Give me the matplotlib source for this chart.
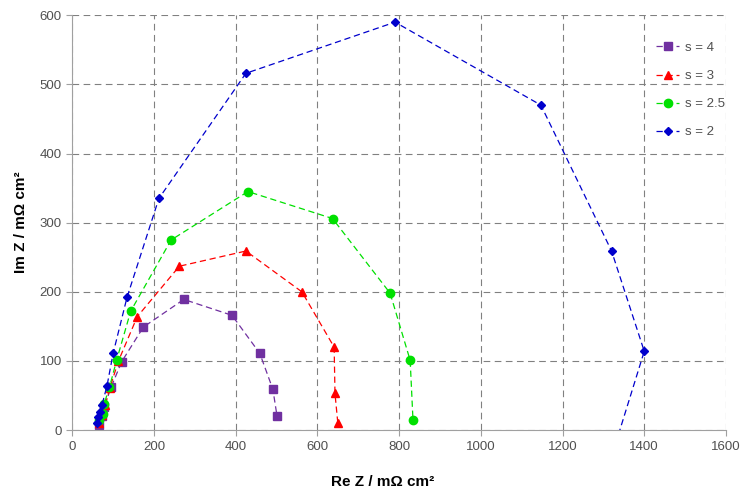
import matplotlib
matplotlib.use("Agg")
import matplotlib.pyplot as plt

plt.rcParams['font.family'] = ['Liberation Sans', 'DejaVu Sans']

labels = ["s = 4", "s = 3", "s = 2.5", "s = 2"]

re_s4 = [66, 73, 78, 95, 121, 174, 273, 391, 459, 491, 501]
im_s4 = [8, 20, 33, 62, 99, 149, 189, 166, 111, 59, 21]

re_s3 = [66, 73, 81, 92, 113, 159, 262, 425, 562, 641, 643, 650]
im_s3 = [10, 22, 37, 61, 100, 164, 237, 259, 200, 120, 53, 10]

re_s25 = [66, 74, 78, 91, 109, 143, 242, 430, 637, 778, 827, 834]
im_s25 = [14, 24, 38, 62, 102, 172, 275, 345, 306, 198, 101, 14]

re_s2 = [60, 64, 68, 73, 85, 100, 134, 212, 425, 790, 1147, 1320, 1400, 1336]
im_s2 = [10, 19, 26, 37, 64, 111, 192, 335, 516, 590, 470, 259, 114, -8]

x_ticks = [0, 200, 400, 600, 800, 1000, 1200, 1400, 1600]
y_ticks = [0, 100, 200, 300, 400, 500, 600]

colors = ["#7030A0", "#FF0000", "#00E000", "#0000CC"]
markers = ["s", "^", "o", "D"]
msizes = [5.5, 6, 6, 4.5]

fig = plt.figure(figsize=(7.42, 4.91), dpi=100)
ax = fig.add_axes([0.0974, 0.124, 0.881, 0.845])

series = [(re_s4, im_s4), (re_s3, im_s3), (re_s25, im_s25), (re_s2, im_s2)]
for (xs, ys), c, m, ms, lab in zip(series, colors, markers, msizes, labels):
    ax.plot(xs, ys, linestyle=(0, (5, 3)), linewidth=0.9, color=c, marker=m,
            markersize=ms, markeredgecolor=c, markerfacecolor=c, label=lab)

ax.set_xlim(0, 1600)
ax.set_ylim(0, 600)
ax.set_xticks(x_ticks)
ax.set_yticks(y_ticks)
ax.grid(True, color="#808080", linestyle=(0, (6, 4)), linewidth=0.8)
ax.set_axisbelow(True)
for s in ["top", "right"]:
    ax.spines[s].set_visible(False)
for s in ["left", "bottom"]:
    ax.spines[s].set_color("#A0A0A0")
ax.tick_params(colors="#A0A0A0", labelcolor="#505050", labelsize=9.5, length=4)

ax.set_xlabel("Re Z / m\u03a9 cm\u00b2", fontsize=11, fontweight="bold")
ax.xaxis.set_label_coords(0.474, -0.107)
ax.set_ylabel("Im Z / m\u03a9 cm\u00b2", fontsize=11, fontweight="bold", labelpad=8)

leg = ax.legend(loc="upper left", bbox_to_anchor=(644.5 / 742, 1 - 30 / 491),
                bbox_transform=fig.transFigure, frameon=False,
                fontsize=9.5, labelspacing=1.2, handlelength=1.75, handletextpad=0.4)
for t in leg.get_texts():
    t.set_color("#505050")

fig.savefig("out.png", dpi=100)
